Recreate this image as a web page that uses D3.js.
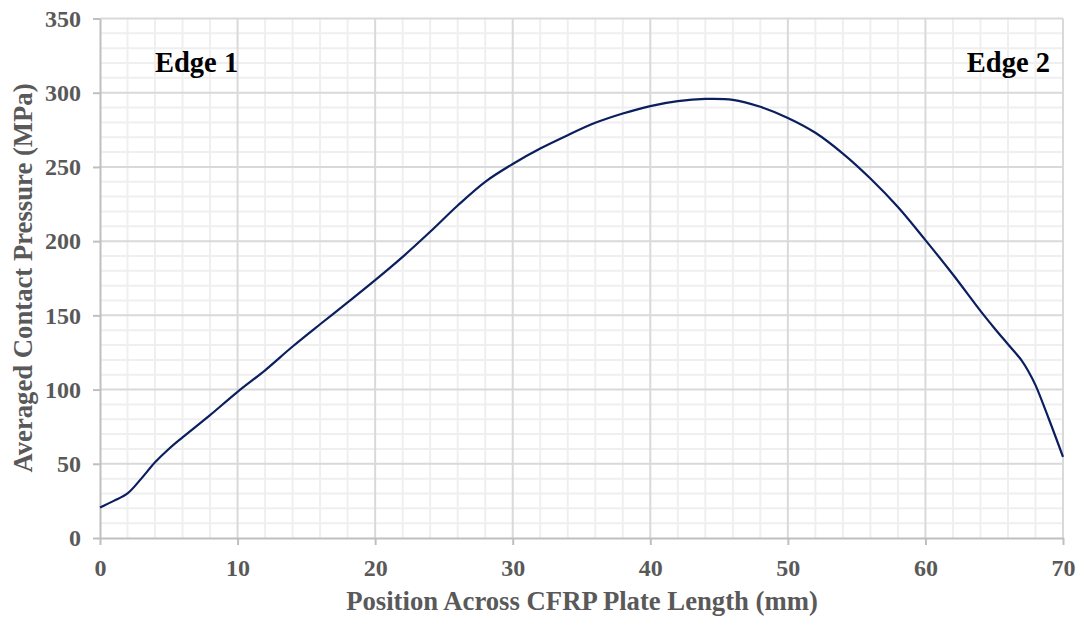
<!DOCTYPE html>
<html>
<head>
<meta charset="utf-8">
<script src="https://cdn.jsdelivr.net/npm/d3@7/dist/d3.min.js"></script>
<style>
  html, body { margin: 0; padding: 0; background: #fff; }
  svg { display: block; }
  text { font-family: "Liberation Serif", "Times New Roman", serif; font-weight: bold; }
</style>
</head>
<body>
<svg id="chart" width="1083" height="626"></svg>
<script>
// Averaged contact pressure along the CFRP plate length
const positions = [0, 1, 2, 3, 4, 5, 6, 8, 10, 12, 14, 16, 18, 20, 22, 24, 26, 28, 30,
                   32, 34, 36, 38, 40, 42, 44, 46, 48, 50, 52, 54, 56, 58, 60, 62, 64,
                   65, 66, 67, 67.5, 68, 69, 70];
const pressures = [20.5, 25, 30, 40, 51, 60, 67.8, 82.8, 98.5, 113, 129, 144, 158.7, 173.7,
                   189.4, 206.3, 224, 240, 252, 262.4, 271.4, 279.7, 286, 291, 294.3, 295.8,
                   295.2, 290.5, 283, 273, 259, 242.2, 223, 200.7, 177.5, 153,
                   141.5, 130.5, 119.5, 112, 103, 79.5, 54.7];
const xTicks = [0, 10, 20, 30, 40, 50, 60, 70];
const yTicks = [0, 50, 100, 150, 200, 250, 300, 350];
const edgeLabels = ["Edge 1", "Edge 2"];

const svg = d3.select("#chart");

const x = d3.scaleLinear().domain([0, 70]).range([100, 1063]);
const y = d3.scaleLinear().domain([0, 350]).range([538, 18.5]);

const grid = svg.append("g");
// minor gridlines
grid.selectAll(".vminor").data(d3.range(0, 71, 2).filter(v => v % 10 !== 0))
  .join("line")
  .attr("x1", d => x(d)).attr("x2", d => x(d))
  .attr("y1", y(0)).attr("y2", y(350))
  .attr("stroke", "#efefef").attr("stroke-width", 2);
grid.selectAll(".hminor").data(d3.range(0, 351, 10).filter(v => v % 50 !== 0))
  .join("line")
  .attr("x1", x(0)).attr("x2", x(70))
  .attr("y1", d => y(d)).attr("y2", d => y(d))
  .attr("stroke", "#efefef").attr("stroke-width", 2);
// major gridlines
grid.selectAll(".vmajor").data(xTicks.filter(v => v > 0))
  .join("line")
  .attr("x1", d => x(d)).attr("x2", d => x(d))
  .attr("y1", y(0)).attr("y2", y(350))
  .attr("stroke", "#d9d9d9").attr("stroke-width", 2);
grid.selectAll(".hmajor").data(yTicks.filter(v => v > 0))
  .join("line")
  .attr("x1", x(0)).attr("x2", x(70))
  .attr("y1", d => y(d)).attr("y2", d => y(d))
  .attr("stroke", "#d9d9d9").attr("stroke-width", 2);

// axes
const xAxis = svg.append("g")
  .attr("transform", `translate(0,${y(0)})`)
  .call(d3.axisBottom(x).tickValues(xTicks).tickSize(7).tickPadding(14).tickSizeOuter(0));
const yAxis = svg.append("g")
  .attr("transform", `translate(${x(0)},0)`)
  .call(d3.axisLeft(y).tickValues(yTicks).tickSize(7).tickPadding(12).tickSizeOuter(0));
[xAxis, yAxis].forEach(g => {
  g.select(".domain").attr("stroke", "#bfbfbf").attr("stroke-width", 2);
  g.selectAll(".tick line").attr("stroke", "#bfbfbf").attr("stroke-width", 2);
  g.selectAll(".tick text")
    .attr("fill", "#595959")
    .style("font-family", '"Liberation Serif", "Times New Roman", serif')
    .style("font-weight", "bold")
    .style("font-size", "24px");
});

// curve
const pts = positions.map((p, i) => [p, pressures[i]]);
svg.append("path")
  .datum(pts)
  .attr("fill", "none")
  .attr("stroke", "#0b1f5e")
  .attr("stroke-width", 2.2)
  .attr("d", d3.line().x(d => x(d[0])).y(d => y(d[1])).curve(d3.curveCatmullRom.alpha(0.5)));

// edge annotations
svg.append("text").attr("x", 155).attr("y", 72)
  .attr("font-size", 28.5).attr("fill", "#000").text(edgeLabels[0]);
svg.append("text").attr("x", 1050).attr("y", 72).attr("text-anchor", "end")
  .attr("font-size", 28.5).attr("fill", "#000").text(edgeLabels[1]);

// axis titles
svg.append("text")
  .attr("x", 582).attr("y", 610)
  .attr("text-anchor", "middle").attr("font-size", 26.7).attr("fill", "#595959")
  .text("Position Across CFRP Plate Length (mm)");
svg.append("text")
  .attr("transform", `translate(32,278) rotate(-90)`)
  .attr("text-anchor", "middle").attr("font-size", 26.7).attr("fill", "#595959")
  .text("Averaged Contact Pressure (MPa)");
</script>
</body>
</html>
